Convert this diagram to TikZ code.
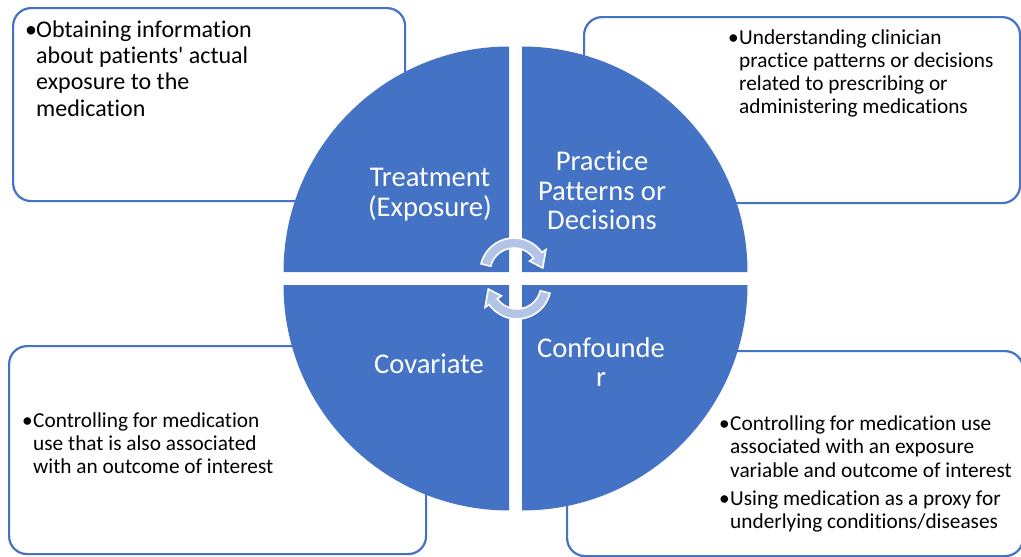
\documentclass[tikz,border=0pt]{standalone}
\usepackage{fontspec}
\setmainfont{Carlito}[Ligatures={TeXOff,CommonOff}]
\definecolor{accent}{HTML}{4472C4}
\definecolor{arrowfill}{HTML}{B4C4E6}
\tikzset{
  box/.style={draw=accent, line width=2.2pt, fill=white, rounded corners=18pt, anchor=north west, inner sep=0pt},
  quad/.style={fill=accent},
  wtxt/.style={text=white, font=\fontsize{28.6}{29.6}\selectfont, inner sep=0pt, anchor=base},
  btxt/.style={text=black, font=\fontsize{21.3}{23.2}\selectfont, inner sep=0pt, anchor=base west},
  bigtxt/.style={btxt, font=\fontsize{24}{26.4}\selectfont},
  cyc/.style={fill=arrowfill, draw=white, line width=1.6pt, line join=miter}
}
\newcommand\stk[1]{\begin{tabular}[t]{@{}c@{}}#1\end{tabular}}
\newcommand\blt[1]{\begin{tabular}[t]{@{}l@{}l@{}}#1\end{tabular}}
\newcommand\bu{\makebox[11pt][l]{\textbullet}}
\begin{document}
\begin{tikzpicture}[x=1pt,y=1pt]
\useasboundingbox (0,0) rectangle (1021,-557);
\clip (0,0) rectangle (1021,-557);
% boxes
\node[box, minimum width=392pt, minimum height=193pt] (b1) at (12,-7) {};
\node[box, minimum width=436pt, minimum height=186pt] (b2) at (583,-16) {};
\node[box, minimum width=417pt, minimum height=208pt] (b3) at (8,-345) {};
\node[box, minimum width=456pt, minimum height=205pt] (b4) at (566,-350) {};
% quadrants
\def\R{225.5pt}
\fill[quad] (509,-272) -- ++(-225.5,0) arc[start angle=180, end angle=90, radius=\R] -- cycle;
\fill[quad] (522,-272) -- ++(0,225.5) arc[start angle=90, end angle=0, radius=\R] -- cycle;
\fill[quad] (509,-285) -- ++(-225.5,0) arc[start angle=180, end angle=270, radius=\R] -- cycle;
\fill[quad] (522,-285) -- ++(225.5,0) arc[start angle=0, end angle=-90, radius=\R] -- cycle;
% cycle arrows
\def\cycarrow{%
  \draw[cyc] (166:24pt) -- (166:34pt) arc[start angle=166, end angle=35, radius=34pt]
    -- (35:39pt) -- (8:29pt) -- (35:19pt) -- (35:24pt)
    arc[start angle=35, end angle=166, radius=24pt] -- cycle;}
\begin{scope}[shift={(514,-272)}]
  \cycarrow
\end{scope}
\begin{scope}[shift={(517,-285)}, rotate=180]
  \cycarrow
\end{scope}
% circle labels
\node[wtxt] (l1) at (430,-186.7) {\stk{Treatment\\(Exposure)}};
\node[wtxt] (l2) at (602,-170.7) {\stk{Practice\\Patterns or\\Decisions}};
\node[wtxt] (l3) at (429,-373) {\stk{Covariate}};
\node[wtxt] (l4) at (601,-357.3) {\stk{Confounde\\r}};
% box texts
\node[bigtxt] (t1) at (25,-37) {\blt{\bu & Obtaining information\\ & about patients' actual\\ & exposure to the\\ & medication}};
\node[btxt] (t2) at (728,-44.3) {\blt{\bu & Understanding clinician\\ & practice patterns or decisions\\ & related to prescribing or\\ & administering medications}};
\node[btxt] (t3) at (22,-427.3) {\blt{\bu & Controlling for medication\\ & use that is also associated\\ & with an outcome of interest}};
\node[btxt] (t4) at (719,-430.7) {\blt{\bu & Controlling for medication use\\ & associated with an exposure\\ & variable and outcome of interest\\[5pt]\bu & Using medication as a proxy for\\ & underlying conditions/diseases}};
\end{tikzpicture}
\end{document}
